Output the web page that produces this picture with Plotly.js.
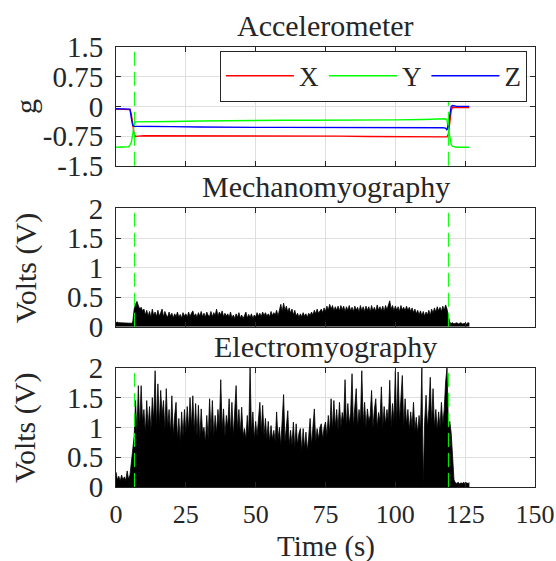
<!DOCTYPE html>
<html>
<head>
<meta charset="utf-8">
<script src="https://cdn.plot.ly/plotly-3.0.1.min.js"></script>
<style>html,body{margin:0;padding:0;background:#fff;}#chart{width:556px;height:561px;}</style>
</head>
<body>
<div id="chart"></div>
<script>
// ---- Accelerometer (g) ----
const accT = [0, 2, 4, 4.5, 5, 5.5, 6, 6.5, 7, 7.5, 8, 10, 20, 30, 40, 50, 60, 70, 80, 90, 100, 110, 117, 118, 118.5, 119, 119.5, 120, 120.5, 121, 122, 124, 126.5];
const accX = [-0.07, -0.07, -0.07, -0.07, -0.08, -0.2, -0.5, -0.7, -0.76, -0.76, -0.75, -0.74, -0.74, -0.75, -0.75, -0.75, -0.75, -0.75, -0.75, -0.76, -0.76, -0.76, -0.76, -0.76, -0.77, -0.7, -0.4, -0.1, -0.02, -0.02, -0.02, -0.03, -0.03];
const accY = [-1.03, -1.03, -1.03, -1.02, -0.98, -0.9, -0.7, -0.45, -0.39, -0.39, -0.39, -0.39, -0.38, -0.37, -0.36, -0.36, -0.35, -0.35, -0.35, -0.34, -0.34, -0.33, -0.32, -0.31, -0.35, -0.6, -0.85, -0.97, -1.01, -1.02, -1.03, -1.03, -1.03];
const accZ = [-0.06, -0.06, -0.06, -0.06, -0.07, -0.3, -0.48, -0.5, -0.5, -0.5, -0.5, -0.51, -0.51, -0.52, -0.53, -0.53, -0.53, -0.53, -0.53, -0.54, -0.54, -0.54, -0.54, -0.55, -0.6, -0.45, -0.2, 0.0, 0.02, 0.01, 0.0, 0.0, 0.0];
const accNames = ['X', 'Y', 'Z'];

// ---- Sampled signals (one value every 0.5 s from t = 0) ----
const sampleStart = 0;
const sampleStep = 0.5;
const mmg = [
  0.07,0.08,0.07,0.07,0.06,0.07,0.07,0.06,0.07,0.06,
  0.07,0.06,0.08,0.30,0.38,0.43,0.36,0.30,0.33,0.27,
  0.30,0.20,0.28,0.18,0.26,0.16,0.30,0.19,0.25,0.17,
  0.28,0.18,0.24,0.30,0.17,0.26,0.20,0.16,0.25,0.18,
  0.23,0.15,0.22,0.17,0.25,0.16,0.21,0.15,0.24,0.18,
  0.22,0.16,0.25,0.17,0.23,0.27,0.18,0.22,0.16,0.24,
  0.18,0.26,0.17,0.23,0.16,0.25,0.19,0.18,0.26,0.17,
  0.24,0.19,0.30,0.18,0.25,0.20,0.27,0.17,0.23,0.18,
  0.22,0.16,0.25,0.15,0.20,0.14,0.22,0.16,0.24,0.15,
  0.20,0.14,0.19,0.25,0.15,0.21,0.16,0.22,0.14,0.20,
  0.16,0.24,0.18,0.23,0.17,0.25,0.19,0.24,0.18,0.22,
  0.17,0.26,0.19,0.24,0.20,0.28,0.18,0.30,0.38,0.26,
  0.40,0.28,0.35,0.25,0.32,0.23,0.30,0.20,0.28,0.18,
  0.23,0.16,0.22,0.17,0.24,0.18,0.22,0.16,0.23,0.19,
  0.25,0.20,0.28,0.22,0.30,0.23,0.27,0.30,0.24,0.32,
  0.26,0.35,0.28,0.38,0.30,0.36,0.27,0.34,0.28,0.35,
  0.27,0.36,0.29,0.35,0.26,0.34,0.28,0.36,0.27,0.33,
  0.26,0.35,0.28,0.33,0.25,0.36,0.27,0.34,0.26,0.35,
  0.28,0.34,0.25,0.36,0.27,0.33,0.26,0.37,0.28,0.34,
  0.27,0.35,0.26,0.36,0.29,0.38,0.44,0.30,0.36,0.27,
  0.35,0.28,0.34,0.26,0.36,0.29,0.33,0.27,0.35,0.28,
  0.33,0.26,0.32,0.24,0.30,0.22,0.28,0.20,0.27,0.19,
  0.26,0.18,0.25,0.20,0.28,0.19,0.30,0.23,0.32,0.25,
  0.34,0.27,0.33,0.26,0.35,0.28,0.37,0.30,0.20,0.07,
  0.06,0.07,0.05,0.06,0.07,0.05,0.06,0.07,0.05,0.06,
  0.06,0.05,0.07,0.06
];
const emg = [
  0.25,0.12,0.18,0.10,0.20,0.12,0.17,0.11,0.27,0.13,
  0.20,0.42,0.60,0.85,1.45,0.90,1.70,1.00,1.70,1.10,
  1.30,0.90,1.45,1.00,1.35,0.95,1.50,1.10,1.95,1.00,
  1.73,1.05,1.62,1.20,1.45,0.95,1.65,1.00,1.30,0.90,
  1.53,0.85,1.20,1.42,0.80,1.15,0.75,1.26,0.85,1.30,
  0.90,1.35,0.95,1.50,1.00,1.53,0.90,1.40,0.85,1.37,
  0.80,1.31,0.90,1.00,0.75,1.20,0.80,1.48,0.90,1.45,
  0.85,1.20,0.90,1.30,1.00,1.80,0.95,1.31,0.85,1.20,
  1.00,1.48,0.90,1.42,0.85,1.25,1.70,0.95,1.30,0.90,
  1.34,0.85,0.98,0.80,1.20,0.85,2.00,0.90,1.26,0.80,
  1.10,0.85,1.20,1.42,0.90,1.37,0.85,1.15,0.80,1.10,
  0.75,1.03,0.80,0.95,0.75,1.26,0.80,1.00,0.70,1.20,
  1.55,0.75,1.00,1.28,0.70,0.95,0.70,1.09,0.65,1.06,
  0.70,0.90,0.98,0.60,0.98,0.65,0.92,0.60,0.85,1.15,
  0.70,1.00,1.31,0.75,0.98,0.80,1.00,1.06,0.80,1.00,
  1.09,0.85,1.20,0.90,1.48,0.95,1.45,1.00,1.30,0.95,
  1.42,1.00,1.25,1.10,1.80,1.00,1.40,1.05,1.25,1.90,
  1.00,1.35,1.65,1.00,1.30,1.10,1.95,1.05,1.42,1.00,
  1.31,1.10,1.20,1.62,1.00,1.30,1.48,1.00,1.25,1.10,
  1.68,1.00,1.35,1.05,1.30,1.10,1.79,1.00,1.40,1.10,
  1.95,1.05,1.93,1.10,1.50,1.87,1.00,1.48,1.05,1.30,
  0.95,1.26,1.00,1.42,0.95,1.17,0.90,1.20,0.95,2.00,
  0.05,1.10,1.54,1.00,1.30,1.84,1.05,1.65,1.00,1.30,
  0.95,1.26,1.00,1.42,1.05,1.30,1.76,2.00,1.00,1.10,
  0.90,0.50,0.12,0.07,0.06,0.08,0.05,0.07,0.06,0.08,
  0.05,0.07,0.06,0.07
];

// ---- Event markers (s) ----
const events = [6.6, 119.0];

// ---- Tick labels ----
const xTickVals = [0, 25, 50, 75, 100, 125, 150];
const xTickText = ['0', '25', '50', '75', '100', '125', '150'];
const accTickVals = [-1.5, -0.75, 0, 0.75, 1.5];
const accTickText = ['-1.5', '-0.75', '0', '0.75', '1.5'];
const voltTickVals = [0, 0.5, 1, 1.5, 2];
const voltTickText = ['0', '0.5', '1', '1.5', '2'];

const titles = ['Accelerometer', 'Mechanomyography', 'Electromyography'];
const yTitles = ['g', 'Volts (V)', 'Volts (V)'];
const xTitle = 'Time (s)';

// ---- build ----
const sigT = mmg.map((_, i) => sampleStart + i * sampleStep);
const FONT = 'Liberation Serif';
const INK = '#262626';
const GRID = '#dfdfdf';
const accColors = ['#ff0000', '#00ff00', '#0000ff'];

const traces = [];
[accX, accY, accZ].forEach((ys, k) => {
  traces.push({x: accT, y: ys, type: 'scatter', mode: 'lines', name: accNames[k],
    xaxis: 'x', yaxis: 'y', line: {color: accColors[k], width: 1.4}});
});
traces.push({x: sigT, y: mmg, type: 'scatter', mode: 'lines', fill: 'tozeroy', fillcolor: '#000',
  xaxis: 'x2', yaxis: 'y2', line: {color: '#000', width: 0.8}, showlegend: false});
traces.push({x: sigT, y: emg, type: 'scatter', mode: 'lines', fill: 'tozeroy', fillcolor: '#000',
  xaxis: 'x3', yaxis: 'y3', line: {color: '#000', width: 0.8}, showlegend: false});

const domains = [[0.730, 1.0], [0.364, 0.633], [0.0, 0.271]];

function xAx(anchor, showLabels) {
  return {
    anchor: anchor, domain: [0, 1], range: [0, 150], tickvals: xTickVals, ticktext: xTickText,
    showticklabels: showLabels, ticks: 'inside', ticklen: 5, tickcolor: INK, tickwidth: 1,
    showline: true, linecolor: INK, linewidth: 1, mirror: 'ticks',
    showgrid: true, gridcolor: GRID, gridwidth: 1, zeroline: false,
    tickfont: {family: FONT, size: 26, color: INK}, ticklabelstandoff: 4, fixedrange: true
  };
}
function yAx(anchor, dom, range, vals, text) {
  return {
    anchor: anchor, domain: dom, range: range, tickvals: vals, ticktext: text,
    ticks: 'inside', ticklen: 5, tickcolor: INK, tickwidth: 1,
    showline: true, linecolor: INK, linewidth: 1, mirror: 'ticks',
    showgrid: true, gridcolor: GRID, gridwidth: 1, zeroline: false,
    tickfont: {family: FONT, size: 29, color: INK}, ticklabelstandoff: 6, fixedrange: true
  };
}

const shapes = [];
['', '2', '3'].forEach(s => {
  events.forEach(e => {
    shapes.push({type: 'line', xref: 'x' + s, yref: 'y' + s + ' domain', x0: e, x1: e, y0: 0, y1: 1,
      line: {color: '#00ff00', width: 1, dash: '14px,6px'}});
  });
});

const annotations = [];
titles.forEach((t, i) => {
  annotations.push({text: t, xref: 'paper', yref: 'paper', x: 0.5, y: domains[i][1],
    xanchor: 'center', yanchor: 'bottom', yshift: 3, showarrow: false,
    font: {family: FONT, size: 30, color: INK}});
});
yTitles.forEach((t, i) => {
  annotations.push({text: t, xref: 'paper', yref: 'paper', x: -0.216, y: (domains[i][0] + domains[i][1]) / 2,
    xanchor: 'center', yanchor: 'middle', textangle: -90, showarrow: false,
    font: {family: FONT, size: 30, color: INK}});
});
annotations.push({text: xTitle, xref: 'paper', yref: 'paper', x: 0.5, y: 0,
  xanchor: 'center', yanchor: 'top', yshift: -41, showarrow: false,
  font: {family: FONT, size: 29, color: INK}});

const layout = {
  width: 556, height: 561,
  font: {family: FONT, size: 26, color: INK},
  margin: {l: 116, r: 21, t: 47, b: 74},
  paper_bgcolor: '#fff', plot_bgcolor: '#fff',
  showlegend: true,
  legend: {orientation: 'h', x: 0.248, y: 0.9916, xanchor: 'left', yanchor: 'top',
    bgcolor: '#fff', bordercolor: INK, borderwidth: 1, itemwidth: 68,
    font: {family: FONT, size: 27, color: INK}},
  xaxis: xAx('y', false),
  xaxis2: xAx('y2', false),
  xaxis3: xAx('y3', true),
  yaxis: yAx('x', domains[0], [-1.5, 1.5], accTickVals, accTickText),
  yaxis2: yAx('x2', domains[1], [0, 2], voltTickVals, voltTickText),
  yaxis3: yAx('x3', domains[2], [0, 2], voltTickVals, voltTickText),
  shapes: shapes,
  annotations: annotations
};

Plotly.newPlot('chart', traces, layout, {displayModeBar: false, staticPlot: true});
</script>
</body>
</html>
